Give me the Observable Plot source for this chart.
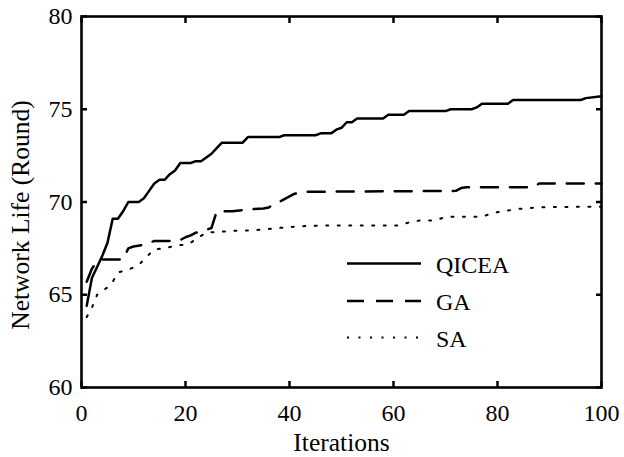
<!DOCTYPE html>
<html><head><meta charset="utf-8">
<script src="https://cdn.jsdelivr.net/npm/d3@7"></script>
<script src="https://cdn.jsdelivr.net/npm/@observablehq/plot@0.6"></script>
<style>
html,body{margin:0;padding:0;background:#fff;}
#wrap{position:relative;width:624px;height:457px;}
#legend{position:absolute;left:0;top:0;pointer-events:none;}
</style></head><body><div id="wrap"></div>
<script>
const xTicks = [0, 20, 40, 60, 80, 100];
const yTicks = [60, 65, 70, 75, 80];
const seriesNames = ["QICEA", "GA", "SA"];

const qiceaIter = [1,2,3,4,5,6,7,8,9,11,12,13,14,15,16,17,18,19,21,22,23,24,25,26,27,31,32,38,39,45,46,48,49,50,51,52,53,58,59,62,63,70,71,75,76,77,82,83,96,97,100];
const qiceaLife = [64.4,65.9,66.5,67.1,67.8,69.1,69.1,69.5,70.0,70.0,70.2,70.6,71.0,71.2,71.2,71.5,71.7,72.1,72.1,72.2,72.2,72.4,72.6,72.9,73.2,73.2,73.5,73.5,73.6,73.6,73.7,73.7,73.9,74.0,74.3,74.3,74.5,74.5,74.7,74.7,74.9,74.9,75.0,75.0,75.1,75.3,75.3,75.5,75.5,75.6,75.7];

const gaIter = [1,2,3,4,8,9,10,12,14,18,19,20,21,22,23,24,25,26,29,32,35,36,37,38,40,41,43,72,73,74,87,88,100];
const gaLife = [65.7,66.4,66.8,66.9,66.9,67.5,67.6,67.7,67.9,67.9,67.95,68.1,68.2,68.35,68.4,68.5,68.6,69.5,69.5,69.6,69.65,69.7,69.9,70.0,70.3,70.45,70.55,70.6,70.75,70.8,70.8,71.0,71.0];

const saIter = [1,2,3,4,5,6,7,9,11,12,14,16,18,20,21,22,24,27,29,31,34,36,38,40,43,47,61,63,65,68,70,72,77,79,81,84,86,88,100];
const saLife = [63.8,64.3,65.0,65.2,65.4,65.7,66.2,66.35,66.6,66.9,67.45,67.5,67.65,67.7,67.8,68.0,68.35,68.4,68.45,68.45,68.5,68.55,68.6,68.65,68.7,68.73,68.73,68.9,69.0,69.0,69.2,69.2,69.2,69.4,69.5,69.63,69.67,69.72,69.75];

const toRows = (name, it, v) => it.map((i, k) => ({s: name, i, v: v[k]}));
const qRows = toRows("QICEA", qiceaIter, qiceaLife);
const gRows = toRows("GA", gaIter, gaLife);
const sRows = toRows("SA", saIter, saLife);

const serif = "'Liberation Serif', 'Times New Roman', Times, serif";
const styles = {
  QICEA: {strokeWidth: 2.5, dash: null},
  GA: {strokeWidth: 2.5, dash: "17,12"},
  SA: {strokeWidth: 2, dash: "2,9.5"}
};

const chart = Plot.plot({
  width: 624, height: 457,
  marginLeft: 81, marginRight: 23, marginTop: 16, marginBottom: 70,
  style: {fontFamily: serif, background: "#fff", color: "#000"},
  x: {domain: [0, 100]},
  y: {domain: [60, 80]},
  marks: [
    Plot.line(sRows, {x: "i", y: "v", stroke: "#000", strokeWidth: styles.SA.strokeWidth, strokeDasharray: styles.SA.dash}),
    Plot.line(gRows, {x: "i", y: "v", stroke: "#000", strokeWidth: styles.GA.strokeWidth, strokeDasharray: styles.GA.dash}),
    Plot.line(qRows, {x: "i", y: "v", stroke: "#000", strokeWidth: styles.QICEA.strokeWidth}),
    Plot.frame({stroke: "#000", strokeWidth: 2.6}),
    Plot.axisX({ticks: xTicks, tickSize: 0, tickPadding: 16, fontSize: 24, label: null}),
    Plot.axisX({ticks: xTicks, tickSize: -6, tickFormat: () => "", label: null, strokeWidth: 2.5}),
    Plot.axisX({anchor: "top", ticks: xTicks, tickSize: -6, tickFormat: () => "", label: null, strokeWidth: 2.5}),
    Plot.axisY({ticks: yTicks, tickSize: 0, tickPadding: 9, fontSize: 24, label: null}),
    Plot.axisY({ticks: yTicks, tickSize: -6, tickFormat: () => "", label: null, strokeWidth: 2.5}),
    Plot.axisY({anchor: "right", ticks: yTicks, tickSize: -6, tickFormat: () => "", label: null, strokeWidth: 2.5}),
    Plot.text(["Iterations"], {frameAnchor: "bottom", textAnchor: "middle", lineAnchor: "top", dy: 45, fontSize: 25.5, fill: "#000"}),
    Plot.text(["Network Life (Round)"], {frameAnchor: "left", textAnchor: "middle", rotate: -90, lineAnchor: "top", dx: -71, dy: 13, fontSize: 25.5, fill: "#000"})
  ]
});

const wrap = document.getElementById("wrap");
wrap.appendChild(chart);

// legend overlay
const leg = d3.select(wrap).append("svg").attr("id", "legend").attr("width", 624).attr("height", 457);
const legRowsY = [263.5, 301, 337.5];
seriesNames.forEach((name, k) => {
  const st = styles[name];
  const y = legRowsY[k];
  leg.append("line").attr("x1", 347).attr("x2", 421).attr("y1", y).attr("y2", y)
    .attr("stroke", "#000").attr("stroke-width", st.strokeWidth)
    .attr("stroke-dasharray", st.dash);
  leg.append("text").attr("x", 436).attr("y", y + 9).text(name)
    .attr("font-family", serif).attr("font-size", 24).attr("fill", "#000");
});
</script></body></html>
